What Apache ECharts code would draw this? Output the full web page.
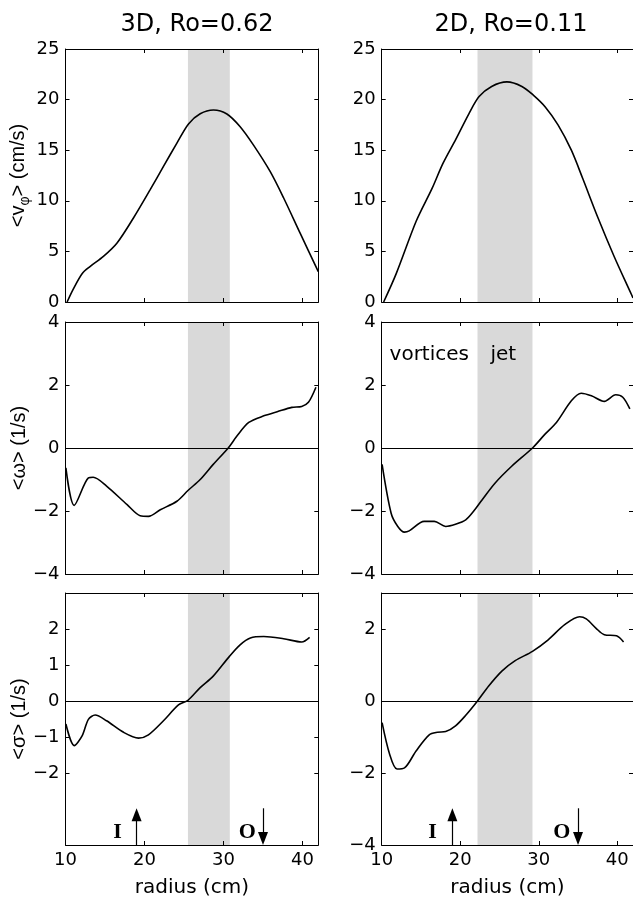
<!DOCTYPE html>
<html><head><meta charset="utf-8">
<script src="https://cdn.jsdelivr.net/npm/echarts@6/dist/echarts.min.js"></script>
<style>html,body{margin:0;padding:0;background:#fff}#c{width:633px;height:900px}</style>
</head><body><div id="c"></div>
<script>
// ---- data ----
const titles = ['3D, Ro=0.62', '2D, Ro=0.11'];
const xTicks = [10, 20, 30, 40];

const r_v3D = [10.2, 11.0, 12.1, 13.1, 14.8, 16.5, 18.6, 20.72, 22.4, 24.1, 25.57, 27.05, 28.73, 30.43, 32.11, 33.8, 35.9, 37.6, 39.7, 42.0];
const v3D   = [0, 1.3, 2.8, 3.5, 4.5, 5.8, 8.3, 11.1, 13.4, 15.7, 17.6, 18.6, 18.97, 18.58, 17.32, 15.5, 12.9, 10.3, 6.8, 3.0];

const r_v2D = [10.25, 11.85, 14.4, 16.4, 17.8, 19.45, 21.1, 22.4, 24.0, 25.95, 27.85, 29.3, 30.8, 32.45, 34.15, 35.6, 37.5, 39.6, 41.65, 42.0];
const v2D   = [0, 2.8, 8.0, 11.2, 13.7, 16.1, 18.6, 20.3, 21.3, 21.75, 21.3, 20.45, 19.3, 17.5, 15.0, 12.2, 8.4, 4.5, 1.0, 0.4];

const r_w3D = [10.05, 11.1, 12.9, 13.5, 15.2, 17.8, 19.45, 20.5, 22.0, 24.1, 25.5, 27.05, 28.7, 30.6, 31.7, 33.2, 35.1, 36.8, 38.65, 39.9, 40.75, 41.7];
const w3D   = [-0.63, -1.82, -0.95, -0.93, -1.21, -1.8, -2.15, -2.17, -1.96, -1.69, -1.35, -1.0, -0.52, 0, 0.38, 0.81, 1.02, 1.15, 1.29, 1.32, 1.45, 1.93];

const r_w2D = [10.05, 11.2, 12.05, 12.9, 13.5, 15.4, 16.7, 18.15, 19.4, 20.7, 21.7, 22.8, 24.45, 26.55, 29.2, 30.8, 32.25, 34.15, 35.4, 36.7, 38.35, 39.8, 40.7, 41.6];
const w2D   = [-0.52, -2.07, -2.49, -2.67, -2.63, -2.33, -2.33, -2.49, -2.42, -2.28, -2.01, -1.64, -1.11, -0.58, 0, 0.44, 0.81, 1.5, 1.74, 1.66, 1.48, 1.69, 1.61, 1.24];

const r_s3D = [10.05, 11.1, 12.1, 12.9, 13.75, 15.2, 17.35, 19.25, 20.5, 22.4, 24.3, 25.5, 27.05, 28.7, 30.75, 32.1, 33.4, 35.1, 37.6, 39.9, 40.9];
const s3D   = [-0.64, -1.24, -0.97, -0.51, -0.39, -0.55, -0.87, -1.03, -0.94, -0.55, -0.11, 0.02, 0.37, 0.69, 1.24, 1.56, 1.75, 1.79, 1.73, 1.64, 1.77];

const r_s2D = [10.05, 11.0, 11.95, 12.9, 14.4, 16.05, 17.1, 18.15, 19.4, 20.65, 22.2, 23.6, 25.3, 27.0, 29.2, 31.2, 33.3, 35.2, 36.05, 37.3, 38.35, 39.9, 40.8];
const s2D   = [-0.6, -1.47, -1.89, -1.86, -1.38, -0.94, -0.87, -0.85, -0.69, -0.41, 0, 0.41, 0.83, 1.12, 1.38, 1.7, 2.12, 2.34, 2.28, 2.02, 1.84, 1.81, 1.64];

const band3D = [25.5, 30.8];
const band2D = [22.2, 29.2];

const yTicksV = [0, 5, 10, 15, 20, 25];
const yTicksW = [-4, -2, 0, 2, 4];
const yTicksS3D = [-2, -1, 0, 1, 2];
const yTicksS2D = [-4, -2, 0, 2];

const arrowI = 19.0, arrowO = 35.0;
const labelI3D = [16.6, -3.66], labelO3D = [33.0, -3.66];
const labelI2D = [16.47, -3.66], labelO2D = [32.93, -3.66];
const textVortices = [11.0, 2.95], textJet = [23.85, 2.95];

// ---- layout ----
const cols = [{left: 65.5, width: 252.8}, {left: 381.7, width: 253.8}];
const rows = [{top: 49, height: 253}, {top: 322, height: 252}, {top: 593, height: 252}];

const panels = [
  {row:0,col:0,r:r_v3D,y:v3D,band:band3D,ymin:0,ymax:25,yt:yTicksV,name:'{a|<v}{b|φ}{a|> (cm/s)}'},
  {row:0,col:1,r:r_v2D,y:v2D,band:band2D,ymin:0,ymax:25,yt:yTicksV},
  {row:1,col:0,r:r_w3D,y:w3D,band:band3D,ymin:-4,ymax:4,yt:yTicksW,zero:true,name:'<ω> (1/s)'},
  {row:1,col:1,r:r_w2D,y:w2D,band:band2D,ymin:-4,ymax:4,yt:yTicksW,zero:true},
  {row:2,col:0,r:r_s3D,y:s3D,band:band3D,ymin:-4,ymax:3,yt:yTicksS3D,zero:true,name:'<σ> (1/s)'},
  {row:2,col:1,r:r_s2D,y:s2D,band:band2D,ymin:-4,ymax:3,yt:yTicksS2D,zero:true}
];

const SANS = 'DejaVu Sans';
const grid = [], xAxis = [], yAxis = [], series = [];
const tick = {show:true, inside:true, length:4, lineStyle:{color:'#000', width:1}};
const aline = {show:true, onZero:false, lineStyle:{color:'#000', width:1}};
const fmt = v => String(v).replace('-', '\u2212');

panels.forEach((p, i) => {
  grid.push({left: cols[p.col].left, width: cols[p.col].width, top: rows[p.row].top, height: rows[p.row].height, containLabel:false});
  const bottomRow = p.row === 2;
  xAxis.push({type:'value', gridIndex:i, position:'bottom', min:10, max:42, z:3,
    axisLine:aline, axisTick:Object.assign({customValues:xTicks}, tick), splitLine:{show:false},
    axisLabel:{show:bottomRow, customValues:xTicks, margin:6, color:'#000', fontFamily:SANS, fontSize:18},
    name: bottomRow ? 'radius (cm)' : '', nameLocation:'middle', nameGap:33,
    nameTextStyle:{color:'#000', fontFamily:SANS, fontSize:20}});
  xAxis.push({type:'value', gridIndex:i, position:'top', min:10, max:42, z:3,
    axisLine:aline, axisTick:Object.assign({customValues:xTicks}, tick), splitLine:{show:false}, axisLabel:{show:false}});
  yAxis.push({type:'value', gridIndex:i, position:'left', min:p.ymin, max:p.ymax, z:3,
    axisLine:aline, axisTick:Object.assign({customValues:p.yt}, tick), splitLine:{show:false},
    axisLabel:{customValues:p.yt, formatter:fmt, margin:6, color:'#000', fontFamily:SANS, fontSize:18},
    name: p.name || '', nameLocation:'middle', nameGap:33,
    nameTextStyle:{color:'#000', fontFamily:'Liberation Sans', fontSize:20,
      rich:{a:{fontFamily:'Liberation Sans', fontSize:20, color:'#000'},
            b:{fontFamily:'Liberation Sans', fontSize:14, color:'#000', padding:[15,0,0,0]}}}});
  yAxis.push({type:'value', gridIndex:i, position:'right', min:p.ymin, max:p.ymax, z:3,
    axisLine:aline, axisTick:Object.assign({customValues:p.yt}, tick), splitLine:{show:false}, axisLabel:{show:false}});

  const s = {type:'line', xAxisIndex:2*i, yAxisIndex:2*i, data:p.r.map((x, k) => [x, p.y[k]]),
    showSymbol:false, smooth:0.3, lineStyle:{color:'#000', width:1.6}, z:4, silent:true,
    markArea:{silent:true, itemStyle:{color:'#d9d9d9'}, data:[[{xAxis:p.band[0]}, {xAxis:p.band[1]}]]}};
  if (p.zero) s.markLine = {silent:true, symbol:['none','none'], label:{show:false},
    lineStyle:{color:'#000', width:1, type:'solid'}, data:[{yAxis:0}]};
  series.push(s);
});

const txtLabel = {show:true, formatter:'{b}', color:'#000', opacity:1, textBorderWidth:0};

// arrows + I/O labels in bottom panels
[[4, labelI3D, labelO3D], [5, labelI2D, labelO2D]].forEach(([i, lI, lO]) => {
  series.push({type:'line', xAxisIndex:2*i, yAxisIndex:2*i, data:[], silent:true,
    markLine:{silent:true, label:{show:false}, lineStyle:{color:'#000', width:1.2, type:'solid'},
      data:[
        [{coord:[arrowI, -4], symbol:'none'}, {coord:[arrowI, -3.16], symbol:'triangle', symbolSize:[10,13]}],
        [{coord:[arrowO, -2.98], symbol:'none'}, {coord:[arrowO, -3.82], symbol:'triangle', symbolSize:[10,13]}]
      ]}});
  series.push({type:'scatter', xAxisIndex:2*i, yAxisIndex:2*i, symbolSize:0, silent:true, z:5,
    itemStyle:{opacity:1},
    data:[{name:'I', value:lI}, {name:'O', value:lO}],
    label:Object.assign({position:'inside', fontFamily:'Liberation Serif', fontWeight:'bold', fontSize:22}, txtLabel)});
});

// vortices / jet annotation
series.push({type:'scatter', xAxisIndex:6, yAxisIndex:6, symbolSize:0, silent:true, z:5,
  itemStyle:{opacity:1},
  data:[{name:'vortices', value:textVortices}, {name:'jet', value:textJet}],
  label:Object.assign({position:'right', distance:0, fontFamily:SANS, fontSize:20}, txtLabel)});

const chart = echarts.init(document.getElementById('c'), null, {renderer:'canvas'});
chart.setOption({
  animation:false, backgroundColor:'#fff',
  title: titles.map((t, c) => ({text:t, left: c === 0 ? 192 : 506, top:8, textAlign:'center',
    textStyle:{color:'#000', fontFamily:SANS, fontSize:24, fontWeight:'normal'}})),
  grid, xAxis, yAxis, series
});
</script></body></html>
